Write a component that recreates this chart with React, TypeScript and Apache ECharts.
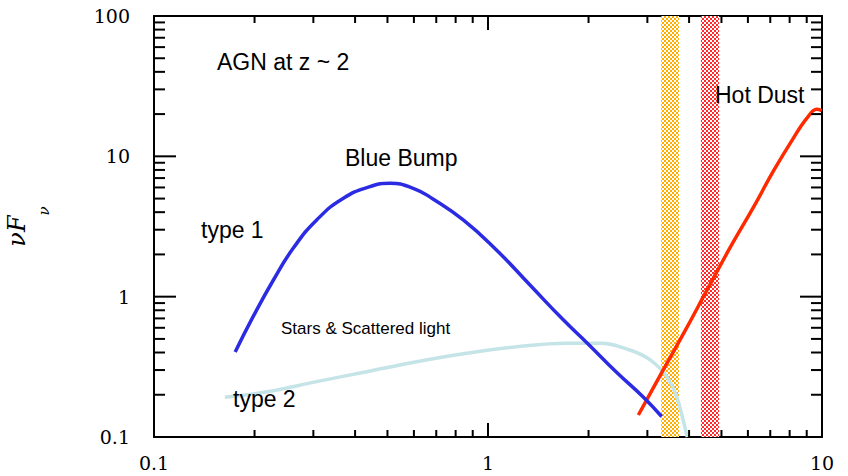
import React, { useEffect, useRef } from "react";
import * as echarts from "echarts";

// Type 1 AGN accretion disk ("Blue Bump")
const bumpX = [0.175, 0.198, 0.228, 0.261, 0.307, 0.369, 0.443, 0.509, 0.597, 0.686, 0.843, 1.06, 1.34, 1.68, 1.98, 2.43, 2.92, 3.31];
const bumpY = [0.403, 0.72, 1.32, 2.21, 3.52, 5.03, 6.08, 6.43, 5.92, 4.95, 3.52, 2.15, 1.2, 0.684, 0.468, 0.288, 0.192, 0.14];
// Type 2: stars & scattered light
const starsX = [0.163, 0.218, 0.307, 0.433, 0.612, 0.863, 1.22, 1.72, 2.16, 2.66, 3.06, 3.43, 3.67, 3.84, 3.95];
const starsY = [0.192, 0.21, 0.248, 0.292, 0.344, 0.395, 0.44, 0.466, 0.466, 0.417, 0.354, 0.269, 0.194, 0.132, 0.1];
// Hot dust
const dustX = [2.82, 3.35, 3.94, 4.52, 5.3, 6.23, 7.15, 8.21, 9.0, 9.64, 9.98];
const dustY = [0.1435, 0.3016, 0.6033, 1.108, 2.223, 4.325, 7.83, 13.49, 18.62, 21.63, 21.18];

// Filter bands (x ranges)
const orangeBand = [3.3, 3.73];
const redBand = [4.34, 4.92];

// Axis ranges, ticks and tick labels
const xRange = [0.1, 10];
const yRange = [0.1, 100];
const xTickValues = [0.1, 1, 10];
const xTickLabels = ["0.1", "1", "10"];
const yTickValues = [0.1, 1, 10, 100];
const yTickLabels = ["0.1", "1", "10", "100"];
const xMinorTicks = [0.2, 0.3, 0.4, 0.5, 0.6, 0.7, 0.8, 0.9, 2, 3, 4, 5, 6, 7, 8, 9];
const yMinorTicks = [0.2, 0.3, 0.4, 0.5, 0.6, 0.7, 0.8, 0.9, 2, 3, 4, 5, 6, 7, 8, 9, 20, 30, 40, 50, 60, 70, 80, 90];

function labelFor(values: number[], labels: string[]) {
  return (v: number) => {
    for (let i = 0; i < values.length; i++) {
      if (Math.abs(Math.log10(v) - Math.log10(values[i])) < 1e-6) return labels[i];
    }
    return "";
  };
}

function checker(color: string, cell: number) {
  const c = document.createElement("canvas");
  c.width = cell * 2;
  c.height = cell * 2;
  const ctx = c.getContext("2d")!;
  ctx.fillStyle = "#ffffff";
  ctx.fillRect(0, 0, cell * 2, cell * 2);
  ctx.fillStyle = color;
  ctx.fillRect(0, 0, cell, cell);
  ctx.fillRect(cell, cell, cell, cell);
  return c.toDataURL();
}

const zip = (xs: number[], ys: number[]) => xs.map((x, i) => [x, ys[i]]);

// Tick marks as rect symbols placed on the axes through the log scales
function tickItems() {
  const items: any[] = [];
  const xt = (v: number, len: number) => {
    items.push({ value: [v, yRange[0]], symbolSize: [2, len], symbolOffset: [0, -len / 2] });
    items.push({ value: [v, yRange[1]], symbolSize: [2, len], symbolOffset: [0, len / 2] });
  };
  const yt = (v: number, len: number) => {
    items.push({ value: [xRange[0], v], symbolSize: [len, 2], symbolOffset: [len / 2, 0] });
    items.push({ value: [xRange[1], v], symbolSize: [len, 2], symbolOffset: [-len / 2, 0] });
  };
  xTickValues.forEach((v) => xt(v, 14));
  xMinorTicks.forEach((v) => xt(v, 7));
  yTickValues.forEach((v) => yt(v, 22));
  yMinorTicks.forEach((v) => yt(v, 11));
  return items;
}

export default function App() {
  const ref = useRef<HTMLDivElement>(null);
  useEffect(() => {
    if (!ref.current) return;
    const chart = echarts.init(ref.current, null, { renderer: "svg" });
    const tickFont = { fontFamily: "DejaVu Serif", fontSize: 19, fontWeight: "normal" as const, color: "#000" };
    const textFont = "Liberation Sans";
    const axisCommon = {
      type: "log" as const,
      logBase: 10,
      splitLine: { show: false },
      minorTick: { show: false },
      axisTick: { show: false },
      axisLine: { show: true, lineStyle: { color: "#000", width: 2 } },
    };
    const orangeImg = checker("#ffae00", 2);
    const redImg = checker("#ff2a2a", 2);

    chart.setOption({
      animation: false,
      backgroundColor: "#fff",
      grid: { left: 154, right: 26, top: 16, bottom: 39, containLabel: false, outerBoundsMode: "none" },
      xAxis: [
        {
          ...axisCommon,
          min: xRange[0],
          max: xRange[1],
          position: "bottom",
          axisLabel: { ...tickFont, margin: 16, formatter: labelFor(xTickValues, xTickLabels) },
        },
        { ...axisCommon, min: xRange[0], max: xRange[1], position: "top", axisLabel: { show: false } },
      ],
      yAxis: [
        {
          ...axisCommon,
          min: yRange[0],
          max: yRange[1],
          position: "left",
          axisLabel: { ...tickFont, margin: 24, formatter: labelFor(yTickValues, yTickLabels) },
          name: "{a|νF}{b|ν}",
          nameLocation: "middle",
          nameRotate: 90,
          nameGap: 103,
          nameTextStyle: {
            rich: {
              a: { fontFamily: "DejaVu Serif", fontStyle: "italic", fontSize: 24, color: "#000", lineHeight: 24, verticalAlign: "top" },
              b: { fontFamily: "DejaVu Serif", fontStyle: "italic", fontSize: 15, color: "#000", lineHeight: 46, verticalAlign: "bottom" },
            },
          },
        },
        { ...axisCommon, min: yRange[0], max: yRange[1], position: "right", axisLabel: { show: false } },
      ],
      series: [
        {
          type: "line",
          name: "Hot Dust",
          data: zip(dustX, dustY),
          showSymbol: false,
          smooth: 0.4,
          lineStyle: { color: "#ff2a00", width: 3.5 },
          z: 3,
          markArea: {
            silent: true,
            z: 1,
            data: [
              [
                { xAxis: orangeBand[0], itemStyle: { color: { image: orangeImg, repeat: "repeat" } } },
                { xAxis: orangeBand[1] },
              ],
              [
                { xAxis: redBand[0], itemStyle: { color: { image: redImg, repeat: "repeat" } } },
                { xAxis: redBand[1] },
              ],
            ],
          },
        },
        {
          type: "line",
          name: "Stars & Scattered light",
          data: zip(starsX, starsY),
          showSymbol: false,
          smooth: 0.4,
          lineStyle: { color: "#c4e4e8", width: 3.5 },
          z: 2,
        },
        {
          type: "line",
          name: "Blue Bump",
          data: zip(bumpX, bumpY),
          showSymbol: false,
          smooth: 0.5,
          lineStyle: { color: "#2b2be3", width: 3.5 },
          z: 3,
        },
        {
          type: "scatter",
          name: "ticks",
          silent: true,
          clip: false,
          z: 10,
          symbol: "rect",
          itemStyle: { color: "#000", opacity: 1 },
          emphasis: { disabled: true },
          data: tickItems(),
        },
      ],
      graphic: [
        { type: "text", left: 217, top: 50, z: 10, style: { text: "AGN at z ~ 2", font: `23px ${textFont}`, fill: "#000" } },
        { type: "text", left: 345, top: 146, z: 10, style: { text: "Blue Bump", font: `23px ${textFont}`, fill: "#000" } },
        { type: "text", left: 201, top: 218, z: 10, style: { text: "type 1", font: `23px ${textFont}`, fill: "#000" } },
        { type: "text", left: 715, top: 83, z: 10, style: { text: "Hot Dust", font: `23px ${textFont}`, fill: "#000" } },
        { type: "text", left: 281, top: 320, z: 10, style: { text: "Stars & Scattered light", font: `17px ${textFont}`, fill: "#000" } },
        { type: "text", left: 233, top: 387, z: 10, style: { text: "type 2", font: `23px ${textFont}`, fill: "#000" } },
      ],
    });

    return () => chart.dispose();
  }, []);
  return <div ref={ref} style={{ position: "absolute", left: 0, top: 0, width: 848, height: 476 }} />;
}
